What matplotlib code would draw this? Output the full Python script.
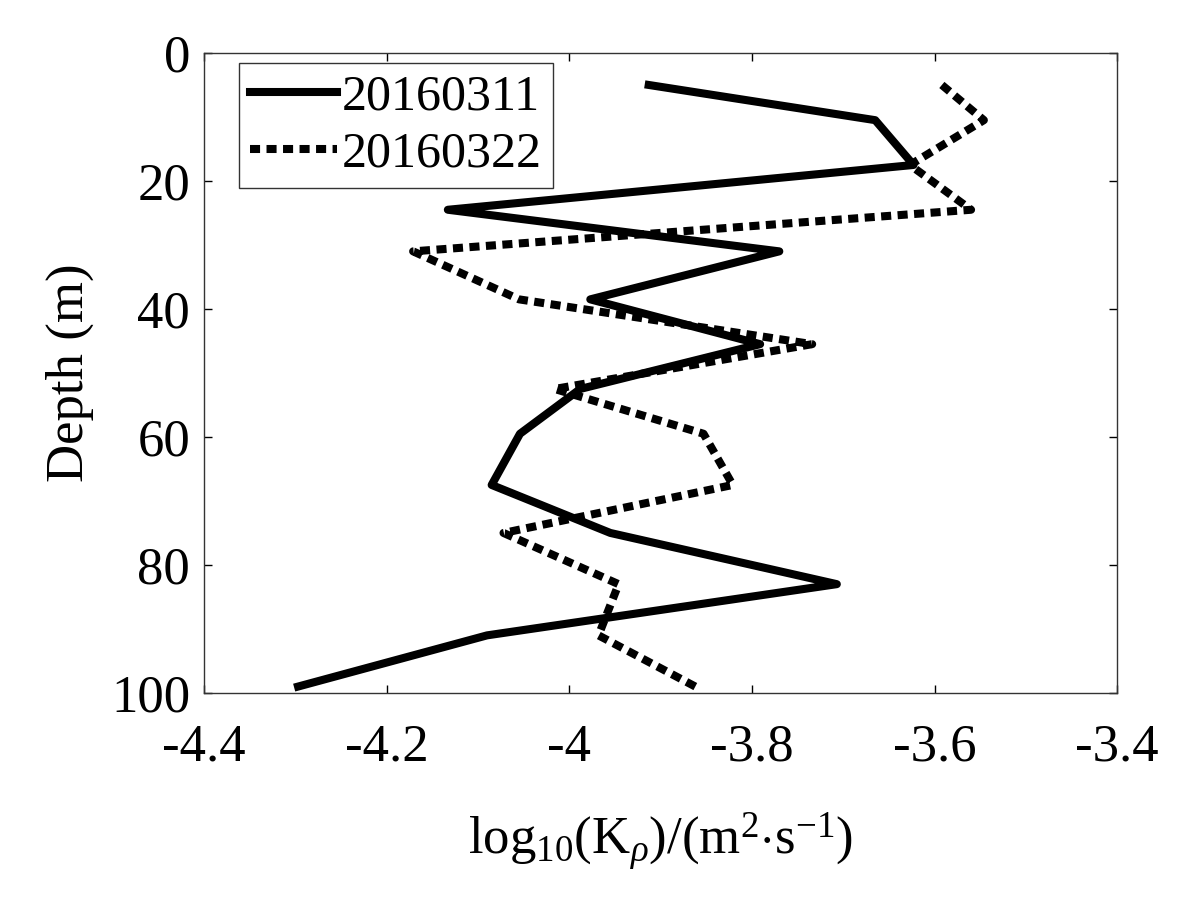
import numpy as np
import matplotlib
matplotlib.use('Agg')
import matplotlib.pyplot as plt

plt.rcParams['font.family'] = ['Liberation Serif', 'DejaVu Serif']
plt.rcParams['mathtext.fontset'] = 'custom'
plt.rcParams['mathtext.rm'] = 'Liberation Serif'
plt.rcParams['mathtext.it'] = 'Liberation Serif:italic'

# depth (m) and log10(K_rho) profiles
depth = [5, 10.5, 17.5, 24.5, 31, 38.5, 45.5, 52.5, 59.5, 67.5, 75, 83, 91, 99]
k_0311 = [-3.913, -3.665, -3.623, -4.133, -3.770, -3.977, -3.791,
          -3.988, -4.054, -4.085, -3.955, -3.707, -4.090, -4.297]
k_0322 = [-3.592, -3.546, -3.627, -3.560, -4.171, -4.055, -3.734,
          -4.016, -3.853, -3.821, -4.072, -3.946, -3.968, -3.862]
labels = ['20160311', '20160322']

xticks = [-4.4, -4.2, -4.0, -3.8, -3.6, -3.4]
xticklabels = ['-4.4', '-4.2', '-4', '-3.8', '-3.6', '-3.4']
yticks = [0, 20, 40, 60, 80, 100]

fig = plt.figure(figsize=(12, 9.21), dpi=100)
ax = fig.add_axes([0.17, 0.2476, 0.761, 0.6949])

ax.plot(k_0311, depth, color='k', lw=5.8, ls='-', label=labels[0])
ax.plot(k_0322, depth, color='k', lw=5.8, ls=(0, (1.25, 0.8)),
        dash_capstyle='butt', label=labels[1])

ax.set_xlim(-4.4, -3.4)
ax.set_ylim(100, 0)
ax.set_xticks(xticks)
ax.set_xticklabels(xticklabels)
ax.set_yticks(yticks)
ax.tick_params(direction='in', top=True, right=True, length=6, width=1,
               labelsize=38)
ax.tick_params(axis='x', pad=22)
ax.tick_params(axis='y', pad=10)
for s in ax.spines.values():
    s.set_linewidth(1)
    s.set_color('#333333')

ax.set_xlabel(r'log$_{10}$(K$_{\rho}$)/(m$^{2}$$\cdot$s$^{-1}$)', fontsize=38, labelpad=28)
ax.set_ylabel('Depth (m)', fontsize=38, labelpad=12)

leg = ax.legend(loc='upper left', bbox_to_anchor=(0.038, 0.984), fontsize=36,
                borderaxespad=0, borderpad=0.22, handlelength=1.75,
                handletextpad=0.1, labelspacing=0.2, fancybox=False,
                framealpha=1, edgecolor='#333333')
leg.get_frame().set_linewidth(1)

fig.savefig('out.png', dpi=100)
